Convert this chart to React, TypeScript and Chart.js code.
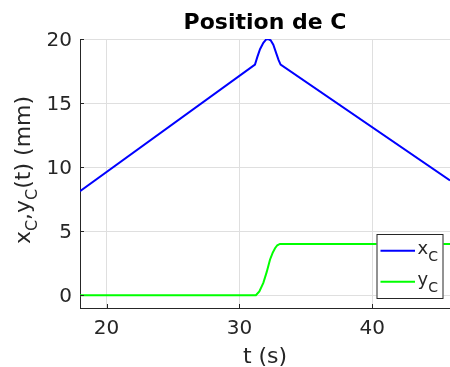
import React, { useEffect, useRef } from "react";
import { Chart, registerables } from "chart.js";

Chart.register(...registerables);

// ---- data ----
const tX = [18, 31.17, 31.35, 31.55, 31.8, 32.0, 32.17, 32.35, 32.55, 32.8, 32.95, 33.1, 45.85];
const xC = [8.12, 18.0, 18.6, 19.2, 19.7, 19.95, 20.0, 19.9, 19.55, 18.8, 18.35, 18.0, 8.95];
const tY = [18, 31.24, 31.5, 31.8, 32.05, 32.3, 32.5, 32.68, 32.85, 33.05, 45.85];
const yC = [0, 0, 0.3, 0.96, 1.8, 2.77, 3.3, 3.67, 3.9, 4.0, 4.0];
const xTicks = [20, 30, 40];
const yTicks = [0, 5, 10, 15, 20];
const xRange = [18, 45.85];
const yRange = [-1, 20];
const titleText = "Position de C";
const xLabel = "t (s)";

const FONT = "'DejaVu Sans', sans-serif";
const AX = "#262626";

const decorPlugin = {
  id: "decor",
  afterDatasetsDraw(chart: any) {
    const ctx = chart.ctx as CanvasRenderingContext2D;
    const xs = chart.scales.x;
    const ys = chart.scales.y;
    const area = chart.chartArea;
    ctx.save();
    // inward ticks
    ctx.strokeStyle = AX;
    ctx.lineWidth = 1;
    for (const v of xTicks) {
      const px = Math.round(xs.getPixelForValue(v)) + 0.5;
      ctx.beginPath();
      ctx.moveTo(px, area.bottom);
      ctx.lineTo(px, area.bottom - 4);
      ctx.stroke();
    }
    for (const v of yTicks) {
      const py = Math.round(ys.getPixelForValue(v)) + 0.5;
      ctx.beginPath();
      ctx.moveTo(area.left, py);
      ctx.lineTo(area.left + 4, py);
      ctx.stroke();
    }
    // tick labels
    ctx.fillStyle = AX;
    ctx.font = `20px ${FONT}`;
    ctx.textBaseline = "alphabetic";
    ctx.textAlign = "center";
    for (const v of xTicks) {
      ctx.fillText(String(v), xs.getPixelForValue(v), 334);
    }
    ctx.textAlign = "right";
    for (const v of yTicks) {
      ctx.fillText(String(v), 72, ys.getPixelForValue(v) + 7.2);
    }
    // x label
    ctx.font = `22px ${FONT}`;
    ctx.textAlign = "center";
    ctx.fillText(xLabel, (area.left + area.right) / 2, 363);
    // title
    ctx.fillStyle = "#000";
    ctx.font = `bold 22px ${FONT}`;
    ctx.fillText(titleText, (area.left + area.right) / 2, 28.5);
    // y label with subscripts
    const segs: [string, boolean][] = [
      ["x", false], ["C", true], [",", false], ["y", false], ["C", true], ["(t) (mm)", false],
    ];
    const mainF = `22px ${FONT}`;
    const subF = `16px ${FONT}`;
    let total = 0;
    for (const [s, sub] of segs) {
      ctx.font = sub ? subF : mainF;
      total += ctx.measureText(s).width;
    }
    ctx.save();
    ctx.translate(29.5, 170);
    ctx.rotate(-Math.PI / 2);
    ctx.textAlign = "left";
    ctx.fillStyle = AX;
    let cx = -total / 2;
    for (const [s, sub] of segs) {
      ctx.font = sub ? subF : mainF;
      ctx.fillText(s, cx, sub ? 7 : 0);
      cx += ctx.measureText(s).width;
    }
    ctx.restore();
    // legend
    const lx = 376.5, ly = 234, lw = 67, lh = 65;
    ctx.fillStyle = "#fff";
    ctx.fillRect(lx, ly, lw, lh);
    ctx.strokeStyle = AX;
    ctx.lineWidth = 1;
    ctx.strokeRect(lx + 0.5, ly + 0.5, lw - 1, lh - 1);
    const items: [string, string, number][] = [
      ["x", "#0000ff", 250.7],
      ["y", "#00ff00", 281.7],
    ];
    for (const [lab, col, yy] of items) {
      ctx.strokeStyle = col;
      ctx.lineWidth = 2;
      ctx.beginPath();
      ctx.moveTo(380.5, yy);
      ctx.lineTo(415, yy);
      ctx.stroke();
      ctx.fillStyle = AX;
      ctx.textAlign = "left";
      ctx.font = `18px ${FONT}`;
      ctx.fillText(lab, 417.5, yy + 3);
      const w = ctx.measureText(lab).width;
      ctx.font = `14px ${FONT}`;
      ctx.fillText("C", 417.5 + w, yy + 10);
    }
    ctx.restore();
  },
};

export default function App() {
  const ref = useRef<HTMLCanvasElement | null>(null);
  useEffect(() => {
    if (!ref.current) return;
    const chart = new Chart(ref.current, {
      type: "line",
      data: {
        datasets: [
          {
            label: "xC",
            data: tX.map((t, i) => ({ x: t, y: xC[i] })),
            borderColor: "#0000ff",
            borderWidth: 2,
            pointRadius: 0,
            tension: 0,
            fill: false,
          },
          {
            label: "yC",
            data: tY.map((t, i) => ({ x: t, y: yC[i] })),
            borderColor: "#00ff00",
            borderWidth: 2,
            pointRadius: 0,
            tension: 0,
            fill: false,
          },
        ],
      },
      options: {
        responsive: false,
        animation: false,
        events: [],
        layout: { padding: { left: 80, top: 39, right: 0, bottom: 59 } },
        plugins: { legend: { display: false }, title: { display: false }, tooltip: { enabled: false } },
        scales: {
          x: {
            type: "linear",
            min: xRange[0],
            max: xRange[1],
            afterBuildTicks: (s: any) => { s.ticks = xTicks.map((v) => ({ value: v })); },
            ticks: { display: false },
            grid: { color: "#dfdfdf", drawTicks: false },
            border: { display: true, color: AX, width: 1 },
          },
          y: {
            type: "linear",
            min: yRange[0],
            max: yRange[1],
            afterBuildTicks: (s: any) => { s.ticks = yTicks.map((v) => ({ value: v })); },
            ticks: { display: false },
            grid: { color: "#dfdfdf", drawTicks: false },
            border: { display: true, color: AX, width: 1 },
          },
        },
      },
      plugins: [decorPlugin],
    });
    return () => chart.destroy();
  }, []);
  return (
    <div style={{ position: "fixed", left: 0, top: 0, width: 450, height: 367, background: "#fff" }}>
      <canvas ref={ref} width={450} height={367} style={{ width: 450, height: 367, display: "block" }} />
    </div>
  );
}
